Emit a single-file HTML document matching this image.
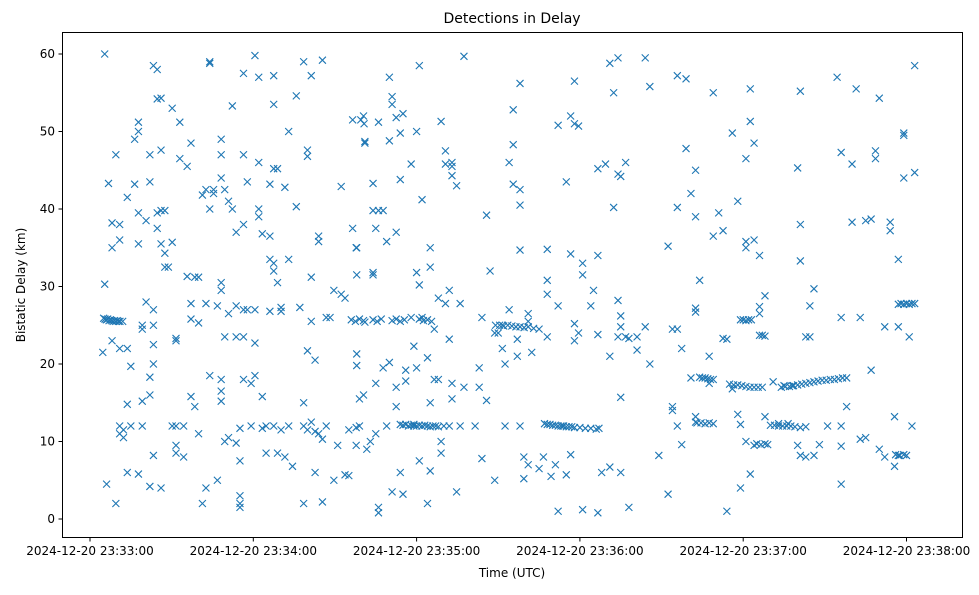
<!DOCTYPE html>
<html><head><meta charset="utf-8">
<style>
body{margin:0;background:#fff;}
svg text{font-family:"DejaVu Sans","Liberation Sans",sans-serif;fill:#000;}
</style></head>
<body>
<svg id="chart" width="979" height="590" viewBox="0 0 979 590" xmlns="http://www.w3.org/2000/svg">
<rect width="979" height="590" fill="#fff"/>
<text x="512" y="23" font-size="14" text-anchor="middle">Detections in Delay</text>
<text x="512" y="577" font-size="12" text-anchor="middle">Time (UTC)</text>
<text x="25" y="285" font-size="12" text-anchor="middle" transform="rotate(-90 25 285)">Bistatic Delay (km)</text>
<g id="marks"></g>
<g id="axes"></g>
<rect x="62.5" y="32.5" width="900" height="505" fill="none" stroke="#000" stroke-width="1"/>
</svg>
<script>
// seconds after 2024-12-20 23:33:00 UTC, delay in km
const xTickSeconds = [0, 60, 120, 180, 240, 300];
const xTickLabels = ["2024-12-20 23:33:00","2024-12-20 23:34:00","2024-12-20 23:35:00","2024-12-20 23:36:00","2024-12-20 23:37:00","2024-12-20 23:38:00"];
const yTickValues = [0, 10, 20, 30, 40, 50, 60];
const detectionTimes = [];
const detectionDelays = [];
const detections = [
[5,25.9],[5.5,25.8],[6,25.7],[6.5,25.8],[7,25.6],[7.5,25.7],[8,25.6],[8.5,25.5],[9,25.6],[9.5,25.5],[10,25.6],[10.5,25.5],[11,25.5],[12,25.5],
[5.4,60],[5.4,30.3],[4.7,21.5],[6.1,4.5],[6.8,43.3],[8.1,35],[8.1,38.2],[8.1,23],[9.5,2],[9.5,47],[10.9,36],[10.9,38],[10.9,22],[10.9,11],[10.9,12],[12.3,11.5],[12.3,10.5],[13.7,41.5],[13.7,22],[13.7,14.8],[13.7,6],[15,19.7],[15,12],[16.4,49],[16.4,43.2],[17.8,50],[17.8,51.2],[17.8,39.5],[17.8,35.5],[17.8,5.8],[19.2,15.2],[19.2,12],[19.2,25],[19.2,24.5],[20.6,38.5],[20.6,28],[22,43.5],[22,47],[22,18.3],[22,16],[22,4.2],[23.3,27],[23.3,25],[23.3,22.5],[23.3,20],[23.3,8.2],[23.3,58.5],[24.7,58],[24.7,54.2],[24.7,39.5],[24.7,37.5],[26.1,54.3],[26.1,35.5],[26.1,39.8],[26.1,4],[26.1,47.6],[27.5,39.8],[27.5,34.3],[27.5,32.5],[28.8,32.5],[30.2,12],[30.2,35.7],[30.2,53],[31.6,23.3],[31.6,23],[31.6,12],[31.6,9.5],[31.6,8.5],[33,46.5],[33,51.2],[34.4,12],[34.4,8],[35.7,45.5],[35.7,31.3],[37.1,48.5],[37.1,27.8],[37.1,25.8],[37.1,15.8],[38.5,31.2],[38.5,14.5],[39.9,31.2],[39.9,25.3],[39.9,11],[41.3,2],[41.3,41.8],[42.6,4],[42.6,42.5],[42.6,27.8],[44,59],[44,58.8],[44,40],[44,18.5],[45.4,42.5],[45.4,42],[46.8,27.5],[46.8,5],[48.2,47],[48.2,49],[48.2,44],[48.2,30.5],[48.2,29.5],[48.2,18],[48.2,16.5],[48.2,15.2],[49.5,42.5],[49.5,23.5],[49.5,10],[50.9,26.5],[50.9,10.5],[50.9,41],[52.3,53.3],[52.3,40],[53.7,27.5],[53.7,23.5],[53.7,37],[53.7,9.8],[55.1,1.5],[55.1,2],[55.1,3],[55.1,7.5],[55.1,11.7],[56.4,47],[56.4,57.5],[56.4,38],[56.4,27],[56.4,23.5],[56.4,18],[57.8,43.5],[57.8,27],[59.2,17.5],[59.2,12],[60.6,59.8],[60.6,22.7],[60.6,18.5],[60.6,27],[62,57],[62,40],[62,46],[62,39],[63.3,36.8],[63.3,15.8],[63.3,11.7],[64.7,12],[64.7,8.5],[66.1,36.5],[66.1,43.2],[66.1,33.5],[66.1,26.8],[67.5,57.2],[67.5,53.5],[67.5,45.2],[67.5,33],[67.5,32],[67.5,12],[68.9,45.2],[68.9,30.5],[68.9,8.5],[70.2,11.5],[70.2,26.8],[70.2,27.3],[71.6,42.8],[71.6,8],[73,50],[73,33.5],[73,12],[74.4,6.8],[75.8,54.6],[75.8,40.3],[77.1,27.3],[78.5,59],[78.5,12],[78.5,15],[78.5,2],[79.9,47.6],[79.9,11.5],[79.9,46.8],[79.9,21.7],[81.3,25.5],[81.3,12.5],[81.3,57.2],[81.3,31.2],[82.7,6],[82.7,11.3],[82.7,20.5],[84,11],[84,36.5],[84,35.8],[85.4,2.2],[85.4,59.2],[85.4,10.3],[86.8,26],[86.8,12],[88.2,26],[89.6,5],[89.6,29.5],[91,9.5],[92.3,29],[92.3,42.9],[93.7,5.7],[93.7,28.5],[95.1,5.6],[95.1,11.5],[96.5,51.5],[96.5,37.5],[97.8,11.8],[97.8,35],[97.8,9.5],
[96,25.7],[97.5,25.5],[99,25.8],[100.5,25.6],[101,25.4],[104,25.7],[105.5,25.5],[107,25.8],[111,25.6],[112.5,25.8],[114,25.5],[115.5,25.7],[121,25.8],[122.5,25.6],[124,25.7],[125.5,25.5],
[114,12.2],[115,12.1],[116,12.2],[117,12],[118,12.1],[119,12.2],[120,12],[121,12.1],[122,12],[123,12.1],[124,12],[125,11.9],[126,12],[127,12],[128,11.9],[130,12],[132,12],
[149,25],[150.5,25],[152,24.9],[153.5,25],[155,24.9],[156.5,24.8],[158,24.8],[159.5,24.7],[161,24.8],[163,24.6],[165,24.5],
[167,12.3],[168,12.2],[169,12.2],[170,12.1],[171,12.1],[172,12],[173,12],[174,12],[175,11.9],[176,11.9],[177,11.9],[178,11.8],[180,11.8],[182,11.7],[184,11.7],[186,11.6],[187,11.7],
[224,18.3],[225,18.2],[226,18.2],[227,18.1],[228,18],[229,18],[223,12.4],[224.5,12.4],[226,12.3],[227.5,12.4],[229,12.3],
[235,17.4],[236.5,17.3],[238,17.3],[239.5,17.2],[241,17.1],[242.5,17],[244,17],[245.5,17],[247,17],
[239,25.7],[240,25.7],[241,25.6],[242,25.7],[243,25.7],[246,23.7],[247,23.7],[248,23.6],[245,9.7],[246.5,9.6],[248,9.7],[249,9.6],
[254,17],[255.5,17.1],[257,17.1],[258.5,17.2],[260,17.3],[261.5,17.4],[263,17.5],[264.5,17.6],[266,17.7],[267.5,17.8],[269,17.9],[270.5,17.9],[272,18],[273.5,18],[275,18.1],[276.5,18.2],[278,18.2],
[250,12.1],[251.5,12.1],[253,12],[254.5,12],[256,12],[257.5,12],[259,11.9],[261,11.8],[263,11.9],
[297,27.7],[298,27.8],[299,27.7],[300,27.8],[301,27.7],[302,27.8],[303,27.8],[296,8.3],[297.5,8.2],[299,8.3],[300,8.2],
[99.5,51.5],[100.7,51],[101,48.5],[101,48.7],[98,35],[98,31.5],[98,21.3],[98,19.8],[99,15.5],[99,12],[100.5,52],[100.5,16],[101.7,9],[103,10],[104,43.3],[104,39.8],[104,31.5],[104,31.8],[105,37.5],[105,17.5],[105,11],[106,51.2],[106,39.8],[106,1.5],[106,0.8],[107.7,39.8],[107.7,19.5],[109,35.8],[109,12],[110,57],[110,48.8],[110,20.2],[111,54.5],[111,53.5],[111,3.5],[112.5,51.8],[112.5,37],[112.5,17],[112.5,14.5],[114,43.8],[114,49.8],[114,6],[115,52.3],[115,3.2],[116,19.2],[116,17.8],[118,45.8],[118,26],[119,12],[119,22.3],[120,50],[120,31.8],[120,19.5],[121,58.5],[121,30.2],[121,7.5],[122,41.2],[122,26],[124,2],[124,20.8],[125,32.5],[125,35],[125,15],[125,6.2],[126.5,24.5],[126.5,18],[128,28.5],[128,18],[129,8.5],[129,51.3],[129,10],[130.6,47.5],[130.6,45.8],[130.6,27.8],[132,23.2],[132,29.5],[133,46],[133,44.3],[133,45.5],[133,17.5],[133,15.5],[134.7,43],[134.7,3.5],[136,27.8],[136,12],[137.4,59.7],[137.4,17],[141.5,12],[143,19.5],[143,17],[144,26],[144,7.8],[145.7,39.2],[145.7,15.3],[147,32],[148.7,24],[148.7,5],[150,24],[151.5,22],[151.5,25],[152.5,12],[152.5,20],[154,46],[154,27],[155.5,48.3],[155.5,52.8],[155.5,43.2],[157,23.2],[157,21],[158,56.2],[158,42.5],[158,34.7],[158,40.5],[158,12],[159.4,8],[159.4,5.2],[161,26.5],[161,7],[161,25.5],[162.3,21.5],[165,6.5],[166.6,8],[168,34.8],[168,30.8],[168,29],[168,23.5],[169.4,5.5],[171,7],[172,50.8],[172,27.5],[172,1],[173.7,12],[175,43.5],[175,5.7],[176.6,52],[176.6,34.2],[176.6,8.3],[178,56.5],[178,51],[178,23],[178,25.2],[179.5,50.7],[179.5,24],[181,33],[181,1.2],[181,31.5],[184,27.5],[185,29.5],[186.6,45.2],[186.6,34],[186.6,23.8],[186.6,0.8],[188,6],[189.4,45.8],[191,58.8],[191,21],[191,6.7],[192.4,40.2],[192.4,55],[194,23.5],[194,59.5],[194,44.5],[194,28.2],[195,26.2],[195,15.7],[195,6],[195,24.8],[195,44.2],[196.8,46],[196.8,23.5],[198,23.3],[198,1.5],[201,23.5],[201,21.8],[204,59.5],[204,24.8],[205.7,20],[205.7,55.8],[209,8.2],[212.4,35.2],[212.4,3.2],[214,24.5],[214,14.5],[214,14],[215.8,40.2],[215.8,57.2],[215.8,24.5],[215.8,12],[217.4,22],[217.4,9.6],[219,47.8],[219,56.8],[220.8,42],[220.8,18.2],[222.5,39],[222.5,45],[222.5,12.5],[222.5,26.7],[222.5,27.2],[222.5,13.2],[224,30.8],[227.5,17.5],[227.5,21],[229,55],[229,36.5],[231,39.5],[232.6,23.3],[232.6,37.2],[234,23.2],[234,1],[236,16.8],[236,49.8],[238,41],[238,13.5],[239,4],[239,12.2],[241,35.8],[241,46.5],[241,10],[241,35],[242.6,55.5],[242.6,51.3],[242.6,5.8],[244,48.5],[244,9.5],[244,36],[246,34],[246,26.5],[246,27.4],[248,13.2],[248,28.8],[251,17.7],[253,12.3],[255,17.2],[256.5,12.3],[258,17.2],[260,45.3],[260,9.5],[261,33.3],[261,55.2],[261,38],[261,8.2],[263,23.5],[263,8],[264.5,27.5],[264.5,23.5],[266,29.7],[266,8.2],[268,9.6],[271,12],[274.5,57],[276,47.3],[276,26],[276,12],[276,9.4],[276,4.5],[278,14.5],[280,45.8],[280,38.3],[281.5,55.5],[283,26],[283,10.3],[285,10.5],[285,38.5],[287,38.7],[287,19.2],[288.6,46.5],[288.6,47.5],[290,54.3],[290,9],[292,24.8],[292,8],[294,37.2],[294,38.3],[295.6,13.2],[295.6,6.8],[297,24.8],[297,33.5],[297,8.2],[299,44],[299,49.5],[299,49.8],[301,23.5],[302,12],[303,44.7],[303,58.5]
];
detections.forEach(p => { detectionTimes.push(p[0]); detectionDelays.push(p[1]); });

const NS = "http://www.w3.org/2000/svg";
function xScale(s){ return 90 + s * (816.5 / 300); }
function yScale(v){ return 519 - v * (465 / 60); }

const marks = document.getElementById('marks');
for (let i = 0; i < detectionTimes.length; i++) {
  const cx = xScale(detectionTimes[i]), cy = yScale(detectionDelays[i]), r = 3.5;
  const path = document.createElementNS(NS, 'path');
  path.setAttribute('d', `M${cx-r},${cy-r}L${cx+r},${cy+r}M${cx-r},${cy+r}L${cx+r},${cy-r}`);
  path.setAttribute('stroke', '#1f77b4');
  path.setAttribute('stroke-width', '1.1');
  path.setAttribute('fill', 'none');
  
  
  marks.appendChild(path);
}

const axes = document.getElementById('axes');
xTickSeconds.forEach((s, i) => {
  const x = xScale(s);
  const t = document.createElementNS(NS, 'line');
  t.setAttribute('x1', x); t.setAttribute('x2', x);
  t.setAttribute('y1', 538); t.setAttribute('y2', 541.5);
  t.setAttribute('stroke', '#000');
  
  
  axes.appendChild(t);
  const l = document.createElementNS(NS, 'text');
  l.setAttribute('x', x); l.setAttribute('y', 555);
  l.setAttribute('font-size', '12'); l.setAttribute('text-anchor', 'middle');
  l.textContent = xTickLabels[i];
  
  
  axes.appendChild(l);
});
yTickValues.forEach(v => {
  const y = yScale(v);
  const t = document.createElementNS(NS, 'line');
  t.setAttribute('x1', 58.5); t.setAttribute('x2', 62);
  t.setAttribute('y1', y); t.setAttribute('y2', y);
  t.setAttribute('stroke', '#000');
  
  
  axes.appendChild(t);
  const l = document.createElementNS(NS, 'text');
  l.setAttribute('x', 55); l.setAttribute('y', y + 4);
  l.setAttribute('font-size', '12'); l.setAttribute('text-anchor', 'end');
  l.textContent = String(v);
  
  
  axes.appendChild(l);
});
</script>
</body></html>
